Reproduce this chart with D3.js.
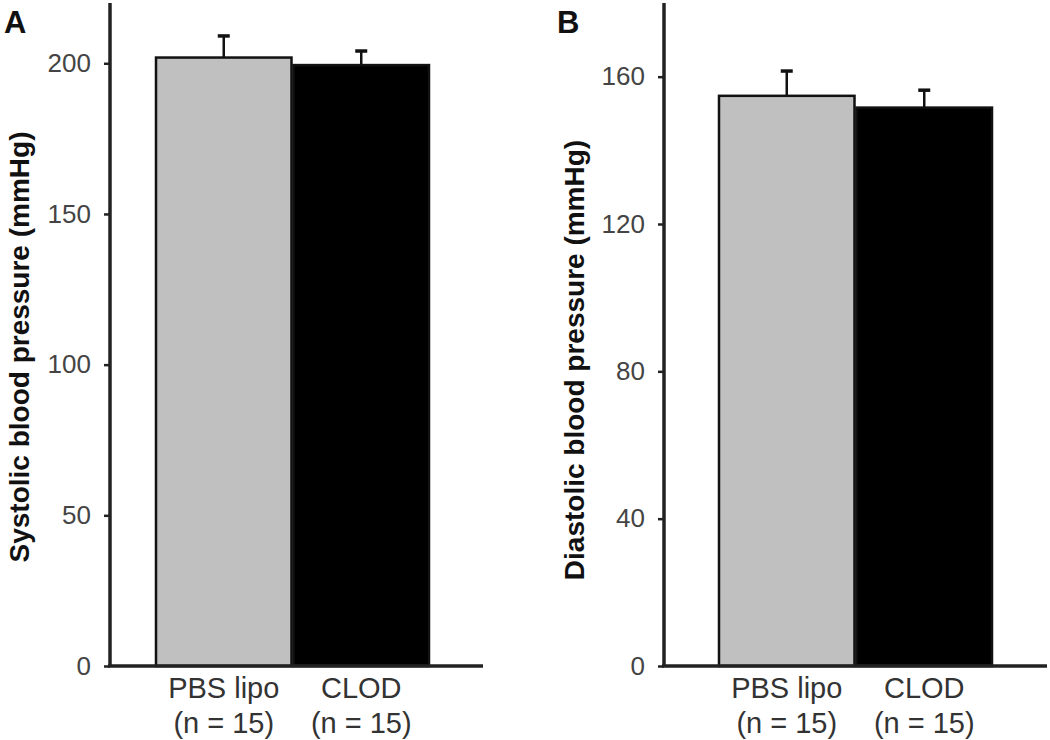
<!DOCTYPE html>
<html><head><meta charset="utf-8">
<script src="https://cdn.jsdelivr.net/npm/d3@7"></script>
<style>
body{margin:0;background:#fff;}
svg{display:block;font-family:"Liberation Sans",Arial,sans-serif;}
</style></head>
<body>
<svg id="chart" width="1050" height="740"></svg>
<script>
const categories = ["PBS lipo", "CLOD"];
const groupN = ["(n = 15)", "(n = 15)"];
const systolicMean = [201.9, 199.4];
const systolicSem = [7.5, 5.0];
const diastolicMean = [154.8, 151.6];
const diastolicSem = [7.0, 5.0];
const systolicTicks = [0, 50, 100, 150, 200];
const diastolicTicks = [0, 40, 80, 120, 160];
const barColors = ["#c0c0c0", "#000000"];

const svg = d3.select("#chart");

function panel(opt) {
  const g = svg.append("g");
  const y = d3.scaleLinear().domain([0, opt.ymax]).range([666, 3]);
  const x = d3.scaleBand().domain(categories).range(opt.barRange).padding(0);

  categories.forEach((c, i) => {
    const top = y(opt.mean[i]);
    const capY = y(opt.mean[i] + opt.sem[i]);
    const cx = x(c) + x.bandwidth() / 2;
    g.append("line").attr("x1", cx).attr("x2", cx).attr("y1", top).attr("y2", capY)
      .attr("stroke", "#111").attr("stroke-width", 2.5);
    g.append("line").attr("x1", cx - 6).attr("x2", cx + 6).attr("y1", capY + 1).attr("y2", capY + 1)
      .attr("stroke", "#111").attr("stroke-width", 3.5);
    g.append("rect").attr("x", x(c) + 1).attr("y", top).attr("width", x.bandwidth() - 2)
      .attr("height", y(0) - top).attr("fill", barColors[i])
      .attr("stroke", "#111").attr("stroke-width", 2.5);
  });

  const yAxis = d3.axisLeft(y).tickValues(opt.ticks).tickSize(6).tickPadding(13).tickFormat(d3.format("d"));
  const ya = g.append("g").attr("transform", `translate(${opt.axisX},0)`).call(yAxis);
  ya.select(".domain").remove();
  ya.selectAll(".tick line").attr("stroke", "#222").attr("stroke-width", 2.5);
  ya.selectAll(".tick text").attr("fill", "#444").style("font-size", "26px");
  g.append("line").attr("x1", opt.axisX).attr("x2", opt.axisX).attr("y1", 3).attr("y2", 667)
    .attr("stroke", "#222").attr("stroke-width", 3.5);
  g.append("line").attr("x1", opt.axisX - 2).attr("x2", opt.xEnd).attr("y1", 666).attr("y2", 666)
    .attr("stroke", "#222").attr("stroke-width", 3.5);

  categories.forEach((c, i) => {
    const cx = x(c) + x.bandwidth() / 2;
    g.append("text").attr("x", cx).attr("y", 698).attr("text-anchor", "middle")
      .attr("fill", "#333").style("font-size", "29px").text(c);
    g.append("text").attr("x", cx).attr("y", 733).attr("text-anchor", "middle")
      .attr("fill", "#333").style("font-size", "29px").text(groupN[i]);
  });

  g.append("text").attr("transform", `translate(${opt.labelX},${opt.labelY}) rotate(-90)`)
    .attr("text-anchor", "middle").attr("font-weight", "bold").attr("fill", "#111")
    .style("font-size", "28px").text(opt.label);

  g.append("text").attr("x", opt.letterX).attr("y", 33).attr("font-weight", "bold")
    .attr("fill", "#111").style("font-size", "31px").text(opt.letter);
}

panel({ymax: 220, barRange: [155, 430], axisX: 110, xEnd: 483, mean: systolicMean, sem: systolicSem,
  ticks: systolicTicks, label: "Systolic blood pressure (mmHg)", labelX: 29, labelY: 347, letter: "A", letterX: 4});
panel({ymax: 180, barRange: [718, 993], axisX: 664, xEnd: 1047, mean: diastolicMean, sem: diastolicSem,
  ticks: diastolicTicks, label: "Diastolic blood pressure (mmHg)", labelX: 584, labelY: 360, letter: "B", letterX: 557});
</script>
</body></html>
